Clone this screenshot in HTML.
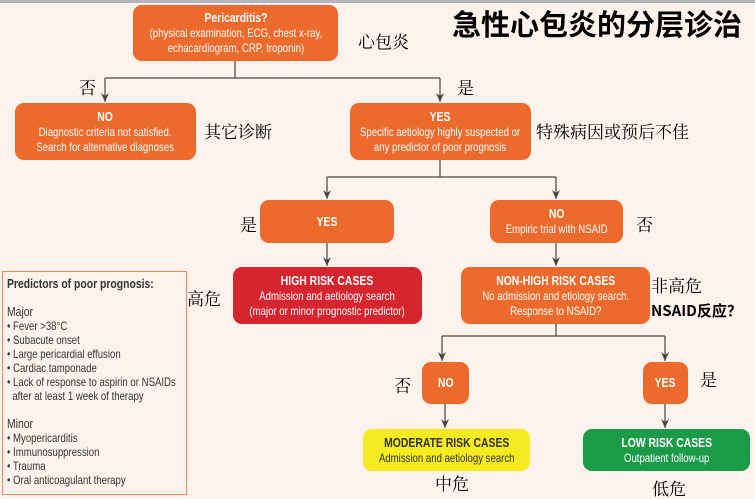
<!DOCTYPE html>
<html><head><meta charset="utf-8"><style>
body{margin:0;width:755px;height:498px;overflow:hidden;background:#fdf3ec;position:relative;font-family:"Liberation Sans",sans-serif;}
.b{position:absolute;box-sizing:border-box;border-radius:9px;color:#fff;text-align:center;font-size:12px;line-height:15px;display:flex;flex-direction:column;justify-content:center;align-items:center;}
.b>div{white-space:nowrap;transform:scaleX(.8);}
.o{background:#ec6a2c;}
.b b{font-size:13px;}
.z{position:absolute;font-family:"Liberation Serif","Noto Serif CJK SC",serif;font-size:17px;color:#000;white-space:nowrap;line-height:1;}
svg{position:absolute;left:0;top:0;}
.p{white-space:nowrap;transform:scaleX(.8);transform-origin:0 0;}
</style></head><body>
<div style="position:absolute;left:0;top:0;width:755px;height:3px;background:#b3b6bd"></div>
<svg width="755" height="498">
<defs><marker id="a" markerWidth="10" markerHeight="8" refX="9" refY="4" orient="auto" markerUnits="userSpaceOnUse"><path d="M0,0 L9,4 L0,8 L3,4 Z" fill="#444"/></marker></defs>
<g stroke="#444" stroke-width="1.2" fill="none">
<path d="M235,61V78"/><path d="M105,78H440"/>
<path d="M105,78V102" marker-end="url(#a)"/><path d="M440,78V102" marker-end="url(#a)"/>
<path d="M440,160V177"/><path d="M327,177H556"/>
<path d="M327,177V199" marker-end="url(#a)"/><path d="M556,177V199" marker-end="url(#a)"/>
<path d="M327,243V266" marker-end="url(#a)"/><path d="M556,243V266" marker-end="url(#a)"/>
<path d="M556,324V336"/><path d="M442,336H665"/>
<path d="M442,336V361" marker-end="url(#a)"/><path d="M665,336V361" marker-end="url(#a)"/>
<path d="M445,404V428" marker-end="url(#a)"/><path d="M665,404V428" marker-end="url(#a)"/>
</g></svg>
<div class="b o" style="left:133px;top:5px;width:205px;height:56px;"><div><b>Pericarditis?</b><br>(physical examination, ECG, chest x-ray,<br>echacardiogram, CRP, troponin)</div></div>
<div class="b o" style="left:15px;top:103px;width:181px;height:57px;"><div><b>NO</b><br>Diagnostic criteria not satisfied.<br>Search for alternative diagnoses</div></div>
<div class="b o" style="left:350px;top:103px;width:181px;height:57px;"><div><b>YES</b><br>Specific aetiology highly suspected or<br>any predictor of poor prognosis</div></div>
<div class="b o" style="left:260px;top:200px;width:134px;height:43px;"><div><b>YES</b></div></div>
<div class="b o" style="left:490px;top:200px;width:133px;height:43px;"><div><b>NO</b><br>Empiric trial with NSAID</div></div>
<div class="b" style="left:233px;top:267px;width:189px;height:57px;background:#d5252f;"><div><b>HIGH RISK CASES</b><br>Admission and aetiology search<br>(major or minor prognostic predictor)</div></div>
<div class="b o" style="left:461px;top:267px;width:189px;height:57px;"><div><b>NON-HIGH RISK CASES</b><br>No admission and etiology search.<br>Response to NSAID?</div></div>
<div class="b o" style="left:422px;top:362px;width:47px;height:42px;"><div><b>NO</b></div></div>
<div class="b o" style="left:643px;top:362px;width:45px;height:42px;"><div><b>YES</b></div></div>
<div class="b" style="left:363px;top:429px;width:167px;height:42px;background:#f6ea20;color:#333;"><div><b>MODERATE RISK CASES</b><br>Admission and aetiology search</div></div>
<div class="b" style="left:583px;top:429px;width:167px;height:42px;background:#1b9a48;"><div><b>LOW RISK CASES</b><br>Outpatient follow-up</div></div>
<div style="position:absolute;left:2px;top:271px;width:185px;height:224px;box-sizing:border-box;border:1px solid #ee8a5e;font-size:12px;line-height:14px;color:#333;padding:5px 4px;">
<div class="p">
<div style="font-weight:bold;font-size:13px;margin-bottom:14px">Predictors of poor prognosis:</div>
<div style="font-size:13px">Major</div>
• Fever &gt;38°C<br>• Subacute onset<br>• Large pericardial effusion<br>• Cardiac tamponade<br>• Lack of response to aspirin or NSAIDs<br>&nbsp;&nbsp;after at least 1 week of therapy
<div style="font-size:13px;margin-top:14px">Minor</div>
• Myopericarditis<br>• Immunosuppression<br>• Trauma<br>• Oral anticoagulant therapy
</div></div>
<div class="z" style="left:452px;top:9px;font-family:'Noto Sans CJK SC',sans-serif;font-size:29px;font-weight:bold;">急性心包炎的分层诊治</div>
<div class="z" style="left:358px;top:34px;">心包炎</div>
<div class="z" style="left:79px;top:80px;">否</div>
<div class="z" style="left:457px;top:80px;">是</div>
<div class="z" style="left:204px;top:124px;">其它诊断</div>
<div class="z" style="left:536px;top:124px;">特殊病因或预后不佳</div>
<div class="z" style="left:240px;top:217px;">是</div>
<div class="z" style="left:636px;top:217px;">否</div>
<div class="z" style="left:187px;top:291px;">高危</div>
<div class="z" style="left:651px;top:278px;">非高危</div>
<div class="z" style="left:651px;top:303px;font-family:'Noto Sans CJK SC',sans-serif;font-weight:bold;font-size:15px;">NSAID反应？</div>
<div class="z" style="left:394px;top:378px;">否</div>
<div class="z" style="left:700px;top:372px;">是</div>
<div class="z" style="left:435px;top:476px;">中危</div>
<div class="z" style="left:652px;top:481px;">低危</div>
</body></html>
